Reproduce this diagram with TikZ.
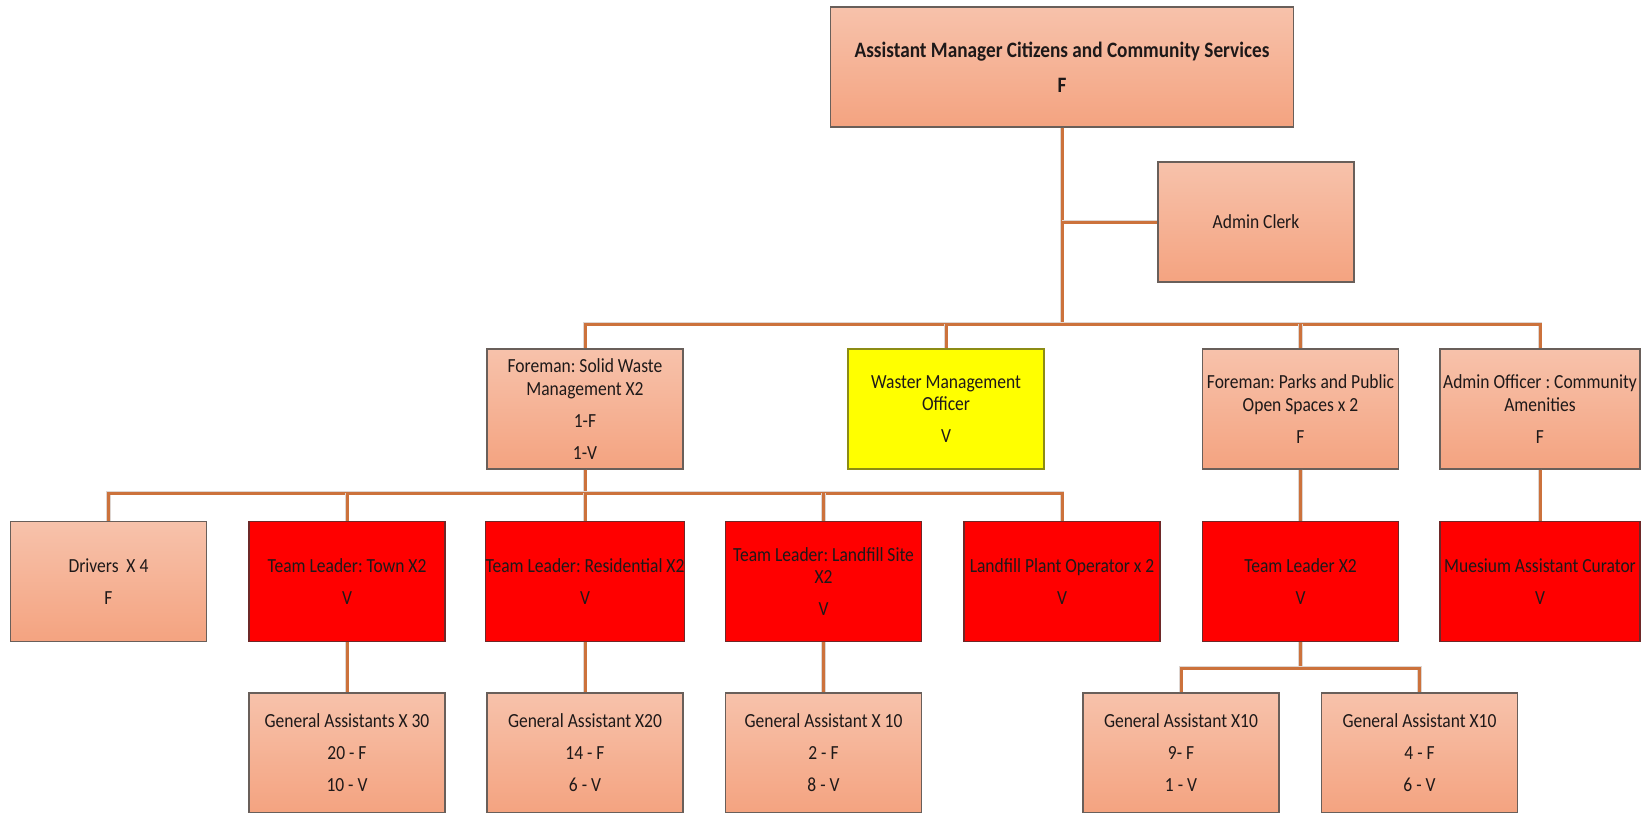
\documentclass[tikz,border=0pt]{standalone}
\usepackage{fontspec}
\setmainfont{Carlito}[FakeStretch=0.875]
\frenchspacing
\definecolor{salmontop}{RGB}{247,194,171}
\definecolor{salmonbot}{RGB}{244,163,128}
\definecolor{vacred}{RGB}{255,0,0}
\definecolor{vacyellow}{RGB}{255,255,0}
\definecolor{linkc}{RGB}{204,114,60}
\definecolor{haloc}{RGB}{222,214,210}
\definecolor{edgec}{RGB}{105,95,90}
\definecolor{inkc}{RGB}{30,25,25}
\begin{document}
\begin{tikzpicture}[x=1pt,y=-1pt,
  post/.style={rectangle, draw=edgec, line width=1.2pt, minimum width=196pt,
    minimum height=120pt, inner sep=0pt, align=center, text=inkc,
    font=\fontsize{20}{22.5}\selectfont},
  filled/.style={post, top color=salmontop, bottom color=salmonbot},
  vacant/.style={post, fill=vacred, draw={rgb,255:red,110;green,40;blue,40}},
  waster/.style={post, fill=vacyellow, draw={rgb,255:red,140;green,140;blue,20}},
  link/.style={draw=linkc, line width=3pt, preaction={draw=haloc, line width=4.6pt}}
]
\useasboundingbox (0,0) rectangle (1646,812);

% bus levels
\coordinate (busA) at (0,324);
\coordinate (busB) at (0,493);
\coordinate (busC) at (0,668);

% head and admin clerk
\node[filled, minimum width=463pt, font=\bfseries\fontsize{22}{22.5}\selectfont]
  (acm) at (1062,67) {Assistant Manager Citizens and Community Services\\[12.5pt]F};
\node[filled] (clerk) at (1256,222) {Admin Clerk};

% second level
\node[filled] (fsw) at (585,409) {Foreman: Solid Waste\\Management X2\\[9.5pt]1-F\\[9.5pt]1-V};
\node[waster] (wmo) at (946,409) {Waster Management\\Officer\\[9.5pt]V};
\node[filled] (fpp) at (1300.5,409) {Foreman: Parks and Public\\Open Spaces x 2\\[9.5pt]F};
\node[filled, minimum width=200pt] (aoc) at (1540,409) {Admin Officer : Community\\Amenities\\[9.5pt]F};

% third level
\node[filled] (drv) at (108.5,581.5) {Drivers~~X 4\\[9.5pt]F};
\node[vacant] (tlt) at (347,581.5) {Team Leader: Town X2\\[9.5pt]V};
\node[vacant] (tlr) at (585,581.5) {Team Leader: Residential X2\\[9.5pt]V};
\node[vacant] (tll) at (823.5,581.5) {Team Leader: Landfill Site\\X2\\[9.5pt]V};
\node[vacant] (lpo) at (1062,581.5) {Landfill Plant Operator x 2\\[9.5pt]V};
\node[vacant] (tlx) at (1300.5,581.5) {Team Leader X2\\[9.5pt]V};
\node[vacant, minimum width=200pt] (mac) at (1540,581.5) {Muesium Assistant Curator\\[9.5pt]V};

% fourth level (runs past the lower edge)
\begin{scope}[every node/.append style={minimum height=122pt}]
\node[filled] (ga30) at (347,753) {General Assistants X 30\\[9.5pt]20 - F\\[9.5pt]10 - V};
\node[filled] (ga20) at (585,753) {General Assistant X20\\[9.5pt]14 - F\\[9.5pt]6 - V};
\node[filled] (ga10) at (823.5,753) {General Assistant X 10\\[9.5pt]2 - F\\[9.5pt]8 - V};
\node[filled] (gaa) at (1181,753) {General Assistant X10\\[9.5pt]9- F\\[9.5pt]1 - V};
\node[filled] (gab) at (1419.5,753) {General Assistant X10\\[9.5pt]4 - F\\[9.5pt]6 - V};
\end{scope}

% connectors
\draw[link] (acm.south) -- (acm.south |- busA);
\draw[link] (acm.south |- clerk.west) -- (clerk.west);
\draw[link] (fsw.north) -- (fsw.north |- busA) -- (aoc.north |- busA) -- (aoc.north);
\draw[link] (wmo.north) -- (wmo.north |- busA);
\draw[link] (fpp.north) -- (fpp.north |- busA);

\draw[link] (fsw.south) -- (fsw.south |- busB);
\draw[link] (drv.north) -- (drv.north |- busB) -- (lpo.north |- busB) -- (lpo.north);
\foreach \n in {tlt,tlr,tll} \draw[link] (\n.north) -- (\n.north |- busB);

\draw[link] (tlt.south) -- (ga30.north);
\draw[link] (tlr.south) -- (ga20.north);
\draw[link] (tll.south) -- (ga10.north);
\draw[link] (fpp.south) -- (tlx.north);
\draw[link] (aoc.south) -- (mac.north);

\draw[link] (tlx.south) -- (tlx.south |- busC);
\draw[link] (gaa.north) -- (gaa.north |- busC) -- (gab.north |- busC) -- (gab.north);
\end{tikzpicture}
\end{document}
